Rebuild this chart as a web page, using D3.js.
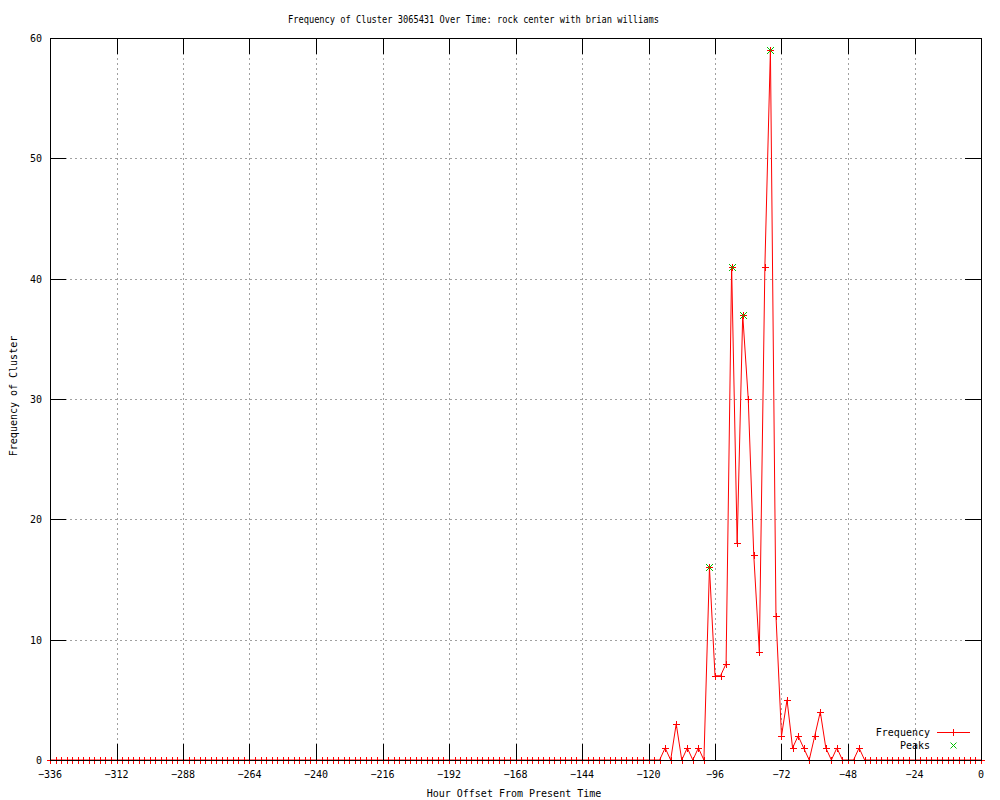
<!DOCTYPE html>
<html>
<head>
<meta charset="utf-8">
<script src="https://cdn.jsdelivr.net/npm/d3@7"></script>
<style>
  body { margin: 0; background: #fff; }
  text { font-family: "DejaVu Sans Mono", monospace; font-size: 10px; fill: #000; }
</style>
</head>
<body>
<script>
// hours offset, one sample every 2 hours from -336 to 0
var hours = d3.range(-336, 1, 2);

// frequency per sample, rows of 12 starting at -336
var frequency = [
  0,0,0,0,0,0,0,0,0,0,0,0,      // -336
  0,0,0,0,0,0,0,0,0,0,0,0,      // -312
  0,0,0,0,0,0,0,0,0,0,0,0,      // -288
  0,0,0,0,0,0,0,0,0,0,0,0,      // -264
  0,0,0,0,0,0,0,0,0,0,0,0,      // -240
  0,0,0,0,0,0,0,0,0,0,0,0,      // -216
  0,0,0,0,0,0,0,0,0,0,0,0,      // -192
  0,0,0,0,0,0,0,0,0,0,0,0,      // -168
  0,0,0,0,0,0,0,0,0,0,0,0,      // -144
  0,0,0,1,0,3,0,1,0,1,0,16,     // -120
  7,7,8,41,18,37,30,17,9,41,59,12, // -96
  2,5,1,2,1,0,2,4,1,0,1,0,      // -72
  0,0,1,0,0,0,0,0,0,0,0,0,      // -48
  0,0,0,0,0,0,0,0,0,0,0,0,      // -24
  0                             // 0
];

var peakHours = [-98, -90, -86, -76];
var peakValues = [16, 41, 37, 59];

var xTicks = [-336, -312, -288, -264, -240, -216, -192, -168, -144, -120, -96, -72, -48, -24, 0];
var yTicks = [0, 10, 20, 30, 40, 50, 60];

var settings = {
  width: 1000, height: 800,
  left: 50, right: 981, top: 38, bottom: 760,
  tick: 16
};

var svg = d3.select("body").append("svg")
    .attr("width", settings.width)
    .attr("height", settings.height);

var x = d3.scaleLinear().domain([-336, 0]).range([settings.left, settings.right]);
var y = d3.scaleLinear().domain([0, 60]).range([settings.bottom, settings.top]);

var series = hours.map(function(h, i) { return {h: h, v: frequency[i]}; });
var peaks = peakHours.map(function(h, i) { return {h: h, v: peakValues[i]}; });

// grid
svg.append("g").selectAll("line").data(xTicks.slice(1, -1)).enter().append("line")
    .attr("x1", function(d) { return Math.round(x(d)) + 0.5; })
    .attr("x2", function(d) { return Math.round(x(d)) + 0.5; })
    .attr("y1", settings.top).attr("y2", settings.bottom)
    .style("stroke", "#a0a0a0").style("stroke-dasharray", "2,3");

svg.append("g").selectAll("line").data(yTicks.slice(1, -1)).enter().append("line")
    .attr("y1", function(d) { return Math.round(y(d)) + 0.5; })
    .attr("y2", function(d) { return Math.round(y(d)) + 0.5; })
    .attr("x1", settings.left).attr("x2", settings.right)
    .style("stroke", "#a0a0a0").style("stroke-dasharray", "2,3");

// frequency line
svg.append("path")
    .datum(series)
    .attr("d", d3.line().x(function(d) { return x(d.h); }).y(function(d) { return y(d.v); }))
    .style("fill", "none").style("stroke", "#ff0000").style("stroke-width", 1);

var cross = function(sel, cx, cy, r, color) {
  sel.append("path")
      .attr("d", "M" + (cx - r) + "," + (cy - r) + "L" + (cx + r) + "," + (cy + r) +
                 "M" + (cx - r) + "," + (cy + r) + "L" + (cx + r) + "," + (cy - r))
      .style("stroke", color).style("fill", "none");
};
var plus = function(sel, cx, cy, r, color) {
  sel.append("path")
      .attr("d", "M" + (cx - r) + "," + cy + "L" + (cx + r) + "," + cy +
                 "M" + cx + "," + (cy - r) + "L" + cx + "," + (cy + r))
      .style("stroke", color).style("fill", "none");
};

// frequency pluses, then peaks as green x on top
var marks = svg.append("g");
series.forEach(function(d) { plus(marks, Math.round(x(d.h)) + 0.5, Math.round(y(d.v)) + 0.5, 3.5, "#ff0000"); });
peaks.forEach(function(d) { cross(marks, Math.round(x(d.h)) + 0.5, Math.round(y(d.v)) + 0.5, 3.5, "#00c000"); });

// border + ticks
svg.append("rect")
    .attr("x", settings.left + 0.5).attr("y", settings.top + 0.5)
    .attr("width", settings.right - settings.left).attr("height", settings.bottom - settings.top)
    .style("fill", "none").style("stroke", "#000");

var ticks = svg.append("g").style("stroke", "#000");
xTicks.forEach(function(d) {
  var px = Math.round(x(d)) + 0.5;
  ticks.append("line").attr("x1", px).attr("x2", px).attr("y1", settings.bottom).attr("y2", settings.bottom - settings.tick);
  ticks.append("line").attr("x1", px).attr("x2", px).attr("y1", settings.top).attr("y2", settings.top + settings.tick);
});
yTicks.forEach(function(d) {
  var py = Math.round(y(d)) + 0.5;
  ticks.append("line").attr("y1", py).attr("y2", py).attr("x1", settings.left).attr("x2", settings.left + settings.tick);
  ticks.append("line").attr("y1", py).attr("y2", py).attr("x1", settings.right).attr("x2", settings.right - settings.tick);
});

// tick labels
svg.append("g").selectAll("text").data(xTicks).enter().append("text")
    .attr("x", function(d) { return x(d); })
    .attr("y", 778)
    .attr("text-anchor", "middle")
    .text(function(d) { return d < 0 ? "\u2212" + (-d) : d; });

svg.append("g").selectAll("text").data(yTicks).enter().append("text")
    .attr("x", 42)
    .attr("y", function(d) { return y(d) + 4; })
    .attr("text-anchor", "end")
    .text(function(d) { return d; });

// titles
svg.append("text")
    .attr("x", 288).attr("y", 23)
    .attr("textLength", 371).attr("lengthAdjust", "spacingAndGlyphs")
    .text("Frequency of Cluster 3065431 Over Time: rock center with brian williams");

svg.append("text")
    .attr("x", 514).attr("y", 797)
    .attr("text-anchor", "middle")
    .text("Hour Offset From Present Time");

svg.append("text")
    .attr("transform", "translate(17,396) rotate(-90)")
    .attr("text-anchor", "middle")
    .text("Frequency of Cluster");

// legend
svg.append("text").attr("x", 930).attr("y", 736).attr("text-anchor", "end").text("Frequency");
svg.append("text").attr("x", 930).attr("y", 749).attr("text-anchor", "end").text("Peaks");
svg.append("line")
    .attr("x1", 937).attr("x2", 970).attr("y1", 732.5).attr("y2", 732.5)
    .style("stroke", "#ff0000");
plus(svg, 953.5, 732.5, 3.5, "#ff0000");
cross(svg, 953.5, 745.5, 3, "#00c000");
</script>
</body>
</html>
